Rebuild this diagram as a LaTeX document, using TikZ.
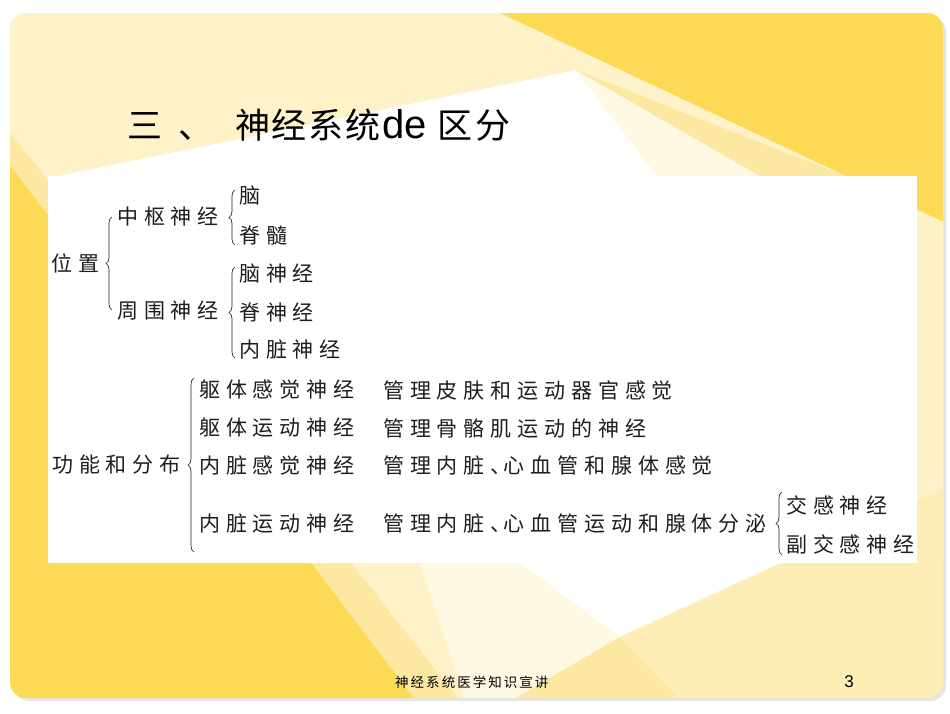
\documentclass[tikz,border=0pt]{standalone}
\usepackage{fontspec}
\setmainfont{Liberation Sans}
\newfontfamily\cjk{Noto Sans CJK SC}
\newfontfamily\cjkspaced[LetterSpace=28]{Noto Sans CJK SC}
\newfontfamily\cjktitle[LetterSpace=5]{Noto Sans CJK SC}
\newfontfamily\cjkfoot[LetterSpace=15]{Noto Sans CJK SC}
\usetikzlibrary{decorations.pathreplacing}
\definecolor{paleyellow}{HTML}{FEF2C9}
\definecolor{lightray}{HTML}{FFF8E3}
\definecolor{midray}{HTML}{FDE8A2}
\definecolor{strongyellow}{HTML}{FDDA55}
\definecolor{bottompale}{HTML}{FEEEB6}
\definecolor{textgray}{HTML}{1E1E1E}
\begin{document}
\begin{tikzpicture}[x=1pt,y=-1pt,
	item_node/.style={anchor=west,inner sep=0pt,font=\fontsize{21}{21}\selectfont\cjkspaced,text=textgray},
	brace_line/.style={decorate,decoration={brace,amplitude=6pt},line width=0.65pt,draw=textgray}]
		
		\useasboundingbox (0,0) rectangle (950,713);
		\fill[black!10,rounded corners=16pt] (13,16) rectangle (946,701);
		\begin{scope}
		\clip[rounded corners=16pt] (10,13) rectangle (943,698);
		\fill[paleyellow] (0,0) rectangle (950,713);
		\fill[white] (576,70) -- (680,205) -- (0,205) -- (0,188) -- cycle;
		\fill[lightray] (576,70) -- (760,176) -- (657,176) -- cycle;
		\fill[midray] (576,70) -- (850,178) -- (760,176) -- cycle;
		\fill[strongyellow] (500,13) -- (950,13) -- (950,225) -- cycle;
		\fill[midray] (0,120) -- (470,713) -- (425,713) -- (0,152) -- cycle;
		\fill[strongyellow] (0,152) -- (425,713) -- (0,713) -- cycle;
		\fill[lightray] (520,563) -- (620,637) -- (490,713) -- (470,713) -- (420,563) -- cycle;
		\fill[white] (520,563) -- (950,563) -- (950,485) -- (620,637) -- cycle;
		\fill[midray] (620,637) -- (490,713) -- (693,713) -- cycle;
		\fill[bottompale] (620,637) -- (950,485) -- (950,713) -- (693,713) -- cycle;
		\end{scope}
		\fill[white] (48,176) rectangle (917,563);
		
		\node[anchor=west,inner sep=0pt,text=black] (title) at (127,125) {\fontsize{35}{35}\selectfont\cjktitle 三\hspace{16pt}、\hspace{22pt}神经系统\hspace{2pt}{\fontsize{40}{40}\selectfont\rmfamily de}\hspace{11pt}区\hspace{3pt}分};
		
		\node[item_node] (weizhi) at (51,263) {位置};
		\node[item_node] (zhongshu) at (117,217) {中枢神经};
		\node[item_node] (zhouwei) at (117,311) {周围神经};
		\node[item_node] (nao) at (239,196) {脑};
		\node[item_node] (jisui) at (239,235) {脊髓};
		\node[item_node] (naoshen) at (239,274) {脑神经};
		\node[item_node] (jishen) at (239,312) {脊神经};
		\node[item_node] (neizang) at (239,350) {内脏神经};
		
		\node[item_node] (gongneng) at (52,465) {功能和分布};
		\node[item_node] (qtgj) at (199,390) {躯体感觉神经};
		\node[item_node] (qtyd) at (199,428) {躯体运动神经};
		\node[item_node] (nzgj) at (199,466) {内脏感觉神经};
		\node[item_node] (nzyd) at (199,524) {内脏运动神经};
		\node[item_node] (gl1) at (383,390) {管理皮肤和运动器官感觉};
		\node[item_node] (gl2) at (383,428) {管理骨骼肌运动的神经};
		\node[item_node] (gl3) at (383,466) {管理内脏、\hspace{-8pt}心血管和腺体感觉};
		\node[item_node] (gl4) at (383,524) {管理内脏、\hspace{-8pt}心血管运动和腺体分泌};
		\node[item_node] (jg) at (786,505) {交感神经};
		\node[item_node] (fjg) at (786,544) {副交感神经};
		
		\coordinate (b1) at (112,310);
		\coordinate (t1) at (112,217);
		\coordinate (b2) at (235,245);
		\coordinate (t2) at (235,190);
		\coordinate (b3) at (235,358);
		\coordinate (t3) at (235,267);
		\coordinate (b4) at (194,552);
		\coordinate (t4) at (194,378);
		\coordinate (b5) at (782,555);
		\coordinate (t5) at (782,492);
		
		\draw[brace_line] (b1) -- (t1);
		\draw[brace_line] (b2) -- (t2);
		\draw[brace_line] (b3) -- (t3);
		\draw[brace_line] (b4) -- (t4);
		\draw[brace_line] (b5) -- (t5);
		
		\node[anchor=west,inner sep=0pt,font=\fontsize{13.5}{14}\selectfont\cjkfoot] (footer) at (395,682) {神经系统医学知识宣讲};
		\node[inner sep=0pt,font=\fontsize{17}{17}\selectfont] (pagenum) at (849,682) {3};
		\end{tikzpicture}
\end{document}
